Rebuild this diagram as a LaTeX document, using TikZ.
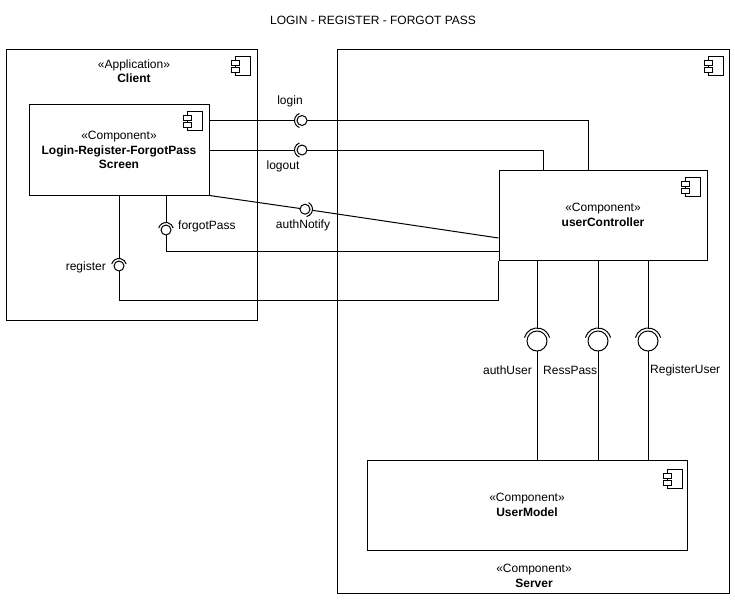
\documentclass[tikz,border=0pt]{standalone}
\usepackage{fontspec}
\setmainfont{Liberation Sans}
\usetikzlibrary{calc}

\tikzset{
  box/.style={draw, line width=1pt, fill=white, inner sep=0pt, align=center},
  lbl/.style={inner sep=0pt, align=center, font=\fontsize{12}{14.5}\selectfont},
  ball/.style={draw, circle, line width=1pt, fill=white, inner sep=0pt, minimum size=#1},
  ball/.default=10pt,
  wire/.style={line width=1pt},
  compicon/.pic={
    \draw[line width=0.9pt, fill=white] (-15,0) rectangle (0,19);
    \draw[line width=0.9pt, fill=white] (-19,4) rectangle (-11,8.5);
    \draw[line width=0.9pt, fill=white] (-19,11) rectangle (-11,15.5);
  }
}

\begin{document}
\begin{tikzpicture}[x=1pt, y=-1pt]
\useasboundingbox (0,0) rectangle (735,599);

% title
\node[lbl] (title) at (373,20) {LOGIN - REGISTER - FORGOT PASS};

% containers
\node[box, minimum width=251pt, minimum height=270pt] (client) at (131.5,185) {};
\node[box, minimum width=392pt, minimum height=543pt] (server) at (533.5,321.5) {};
\pic at ([shift={(-7,7)}]client.north east) {compicon};
\pic at ([shift={(-7,7)}]server.north east) {compicon};
\node[lbl] (clientname) at (134,71) {«Application»\\\textbf{Client}};
\node[lbl] (servername) at (534,576) {«Component»\\\textbf{Server}};

% inner components
\node[box, lbl, minimum width=180pt, minimum height=90pt] (screen) at (119,150)
  {«Component»\\\textbf{Login-Register-ForgotPass}\\\textbf{Screen}};
\node[box, lbl, minimum width=208pt, minimum height=90pt] (ctrl) at (603,215)
  {«Component»\\\textbf{userController}};
\node[box, lbl, minimum width=320pt, minimum height=90pt] (model) at (527,505)
  {«Component»\\\textbf{UserModel}};
\pic at ([shift={(-7,7)}]screen.north east) {compicon};
\pic at ([shift={(-7,8)}]ctrl.north east) {compicon};
\pic at ([shift={(-5,10)}]model.north east) {compicon};

% interface ball positions
\coordinate (lbP) at (302,120.5);
\coordinate (lobP) at (302,150);
\coordinate (abP) at (305,209.2);
\coordinate (fbP) at (166,230);
\coordinate (rbP) at (119,266);
\coordinate (auP) at (537,341);
\coordinate (rpP) at (598,341);
\coordinate (ruP) at (648,341);
\coordinate (ctrlA) at ([yshift=-23pt]ctrl.west);

% connectors
\draw[wire] (screen.east |- lbP) -- ($(lbP)+(-7.5,0)$);
\draw[wire] (lbP) -| ([xshift=90pt]ctrl.north west);
\draw[wire] (screen.east) -- ($(lobP)+(-7.5,0)$);
\draw[wire] (lobP) -| ([xshift=45pt]ctrl.north west);
\draw[wire] (screen.south east) -- (abP);
\draw[wire] ($(abP)!7.5pt!(ctrlA)$) -- (ctrlA);
\draw[wire] (fbP |- screen.south) -- ($(fbP)+(0,-7.5)$);
\draw[wire] (fbP) |- ([yshift=-36pt]ctrl.west);
\draw[wire] (rbP |- screen.south) -- ($(rbP)+(0,-7.5)$);
\draw[wire] (rbP) |- ([yshift=-40pt]ctrl.south west) -- (ctrl.south west);
\draw[wire] (auP |- ctrl.south) -- ($(auP)+(0,-13)$);
\draw[wire] (auP) -- (auP |- model.north);
\draw[wire] (rpP |- ctrl.south) -- ($(rpP)+(0,-13)$);
\draw[wire] (rpP) -- (rpP |- model.north);
\draw[wire] (ruP |- ctrl.south) -- ($(ruP)+(0,-13)$);
\draw[wire] (ruP) -- (ruP |- model.north);

% balls and sockets
\node[ball] (lb) at (lbP) {};
\node[ball] (lob) at (lobP) {};
\node[ball] (ab) at (abP) {};
\node[ball] (fb) at (fbP) {};
\node[ball] (rb) at (rbP) {};
\node[ball=20pt] (au) at (auP) {};
\node[ball=20pt] (rp) at (rpP) {};
\node[ball=20pt] (ru) at (ruP) {};
\draw[wire] (lb.center) ++(110:7.5) arc[start angle=110, end angle=250, radius=7.5];
\draw[wire] (lob.center) ++(110:7.5) arc[start angle=110, end angle=250, radius=7.5];
\draw[wire] (ab.center) ++(-61.6:7.5) arc[start angle=-61.6, end angle=78.4, radius=7.5];
\draw[wire] (fb.center) ++(195:7.5) arc[start angle=195, end angle=345, radius=7.5];
\draw[wire] (rb.center) ++(195:7.5) arc[start angle=195, end angle=345, radius=7.5];
\draw[wire] (au.center) ++(195:13) arc[start angle=195, end angle=345, radius=13];
\draw[wire] (rp.center) ++(195:13) arc[start angle=195, end angle=345, radius=13];
\draw[wire] (ru.center) ++(195:13) arc[start angle=195, end angle=345, radius=13];

% interface labels
\node[lbl] (tlogin) at (290,101) {login};
\node[lbl] (tlogout) at (283,166) {logout};
\node[lbl] (tauthn) at (303,225) {authNotify};
\node[lbl, anchor=west] (tforgot) at (178,226) {forgotPass};
\node[lbl, anchor=east] (treg) at (106,267) {register};
\node[lbl, anchor=east] (tauthu) at (532,370) {authUser};
\node[lbl, anchor=west] (tress) at (543,370) {RessPass};
\node[lbl, anchor=west] (tregu) at (650,370) {RegisterUser};
\end{tikzpicture}
\end{document}
